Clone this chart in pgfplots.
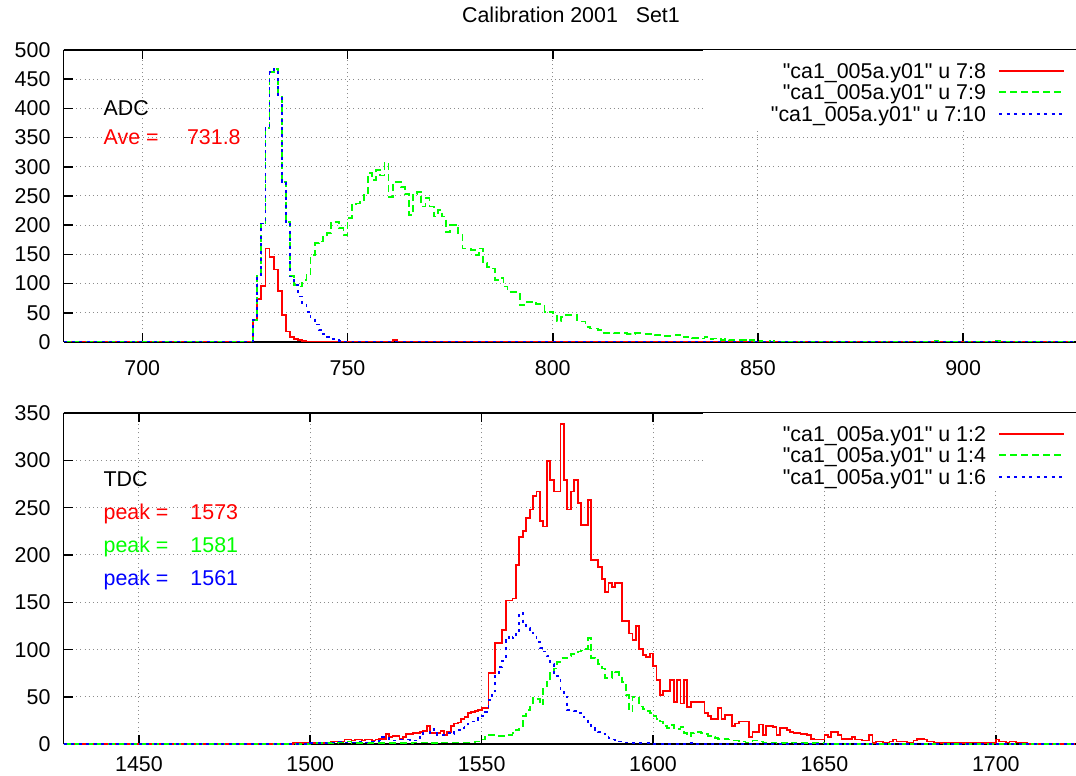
\documentclass[border=0pt]{standalone}
\usepackage{fontspec}
\setmainfont{Liberation Sans}[Ligatures=TeXOff]
\usepackage{pgfplots}
\pgfplotsset{compat=1.18}
\newcommand\fs{\fontsize{10.7pt}{12.8pt}\selectfont}

\pgfplotsset{
  calib/.style={
    scale only axis, width=506.25pt, anchor=south west,
    axis y line*=left,
    axis line style={-, black, line width=0.9pt},
    tick style={black, line width=0.8pt}, major tick length=4.5pt,
    grid=major,
    major grid style={black!45, line width=0.5pt, dash pattern=on 0.5pt off 1.6pt},
    tick label style={font=\fs},
    /pgf/number format/assume math mode=true,
    /pgf/number format/1000 sep={},
    yticklabel style={xshift=-3pt},
    no markers,
    legend plot pos=none, legend cell align=right,
    legend style={at={(1,1)}, anchor=north east, xshift=-44.8pt, yshift=-6pt,
      draw=none, fill=none, inner sep=0pt, row sep=1.75pt,
      font=\fs, nodes={inner sep=0pt, text height=8pt, text depth=1pt}},
  },
  hr/.style={const plot, color=red, line width=0.9pt, solid},
  hg/.style={const plot, color=green, line width=0.9pt, dash pattern=on 3.5pt off 2pt},
  hb/.style={const plot, color=blue, line width=0.9pt, dash pattern=on 1.5pt off 2.25pt},
}
\tikzset{
  kr/.style={red, line width=1pt},
  kg/.style={green, line width=1pt, dash pattern=on 3.5pt off 2pt},
  kb/.style={blue, line width=1pt, dash pattern=on 1.5pt off 2.25pt},
}

\begin{document}
\begin{tikzpicture}
\useasboundingbox (0,0) rectangle (538pt,388pt);

\node[font=\fs] at (285.5pt,380.5pt) {Calibration 2001\ \ \ Set1};

% ADC
\begin{axis}[calib, at={(31.75pt,217pt)}, height=146pt,
  xmin=680.8, xmax=927.5, ymin=0, ymax=500,
  xtick={700,750,...,900}, ytick={0,50,...,500},
  xticklabel style={yshift=-5.5pt}]
\addplot[hr] coordinates {
(681,0) (727,38) (728,74) (729,96) (730,160) (731,146) (732,124) (733,87)
(734,46) (735,18) (736,9) (737,5) (738,3) (739,2) (740,1) (741,0)
(761,3) (762,0) (927,0)};
\addlegendentry{"ca1\_005a.y01" u 7:8}
\addplot[hg] coordinates {
(681,0) (727,38) (728,115) (729,203) (730,367) (731,462) (732,467) (733,423)
(734,274) (735,206) (736,113) (737,98) (738,95) (739,106) (740,115) (741,149)
(742,169) (743,172) (744,180) (745,186) (746,206) (747,206) (748,195) (749,183)
(750,212) (751,235) (752,237) (753,243) (754,252) (755,289) (756,277) (757,295)
(758,285) (759,306) (760,248) (761,274) (762,274) (763,266) (764,254) (765,217)
(766,254) (767,257) (768,232) (769,246) (770,232) (771,215) (772,226) (773,215)
(774,189) (775,200) (776,200) (777,186) (778,160) (779,160) (780,158) (781,149)
(782,160) (783,135) (784,129) (785,126) (786,106) (787,109) (788,95) (789,86)
(790,86) (791,83) (792,63) (793,68) (794,68) (795,69) (796,65) (797,65)
(798,52) (799,52) (800,49) (801,35) (802,43) (803,46) (804,46) (805,46)
(806,35) (807,35) (808,26) (809,23) (810,23) (811,21) (812,16) (813,16)
(814,16) (815,15) (816,15) (817,15) (818,14) (819,14) (820,15) (821,15)
(822,14) (823,14) (824,13) (825,12) (826,12) (827,10) (828,10) (829,11)
(830,12) (831,9) (832,8) (833,9) (834,7) (835,7) (836,6) (837,8)
(838,5) (839,6) (840,5) (841,4) (842,5) (843,3) (844,4) (845,3)
(847,2) (848,3) (849,2) (851,1) (852,2) (853,1) (854,2) (855,1)
(856,0) (857,1) (859,0) (860,1) (862,0) (865,1) (866,0) (870,1)
(871,0) (875,1) (876,0) (880,1) (881,0) (886,1) (888,0) (893,2)
(894,0) (897,1) (899,0) (904,1) (905,0) (908,2) (909,1) (910,0)
(915,1) (916,0) (920,1) (921,0) (927,0)};
\addlegendentry{"ca1\_005a.y01" u 7:9}
\addplot[hb] coordinates {
(681,0) (727,38) (728,115) (729,203) (730,367) (731,462) (732,467) (733,423)
(734,274) (735,206) (736,112) (737,97) (738,78) (739,64) (740,52) (741,40)
(742,30) (743,21) (744,14) (745,9) (746,5) (747,3) (748,2) (749,1)
(751,0) (752,1) (753,0) (927,0)};
\addlegendentry{"ca1\_005a.y01" u 7:10}
\fill[white] (axis cs:836.5,366) rectangle (axis cs:927.5,500);
\end{axis}

% TDC
\begin{axis}[calib, at={(31.75pt,15.85pt)}, height=165.65pt,
  xmin=1428, xmax=1723.4, ymin=0, ymax=350,
  xtick={1450,1500,...,1700}, ytick={0,50,...,350},
  xticklabel style={yshift=-2.5pt}]
\addplot[hr] coordinates {
(1428,0) (1495,1) (1503,2) (1504,1) (1506,3) (1508,2) (1509,3) (1510,5)
(1512,4) (1513,5) (1515,4) (1516,5) (1518,4) (1519,5) (1520,6) (1522,11)
(1523,8) (1524,9) (1526,6) (1527,8) (1528,11) (1530,12) (1532,13) (1533,14)
(1534,19) (1535,12) (1537,12) (1538,14) (1539,10) (1540,13) (1541,19) (1542,22)
(1543,23) (1544,27) (1545,29) (1546,33) (1547,34) (1548,35) (1549,36) (1550,38)
(1552,75) (1554,107) (1556,121) (1557,152) (1559,154) (1560,189) (1561,219) (1562,225)
(1563,239) (1564,248) (1565,262) (1566,267) (1567,236) (1568,230) (1569,299) (1570,279)
(1571,267) (1573,338) (1574,279) (1575,248) (1576,267) (1577,279) (1578,255) (1579,232)
(1581,258) (1582,195) (1584,187) (1585,175) (1586,161) (1587,170) (1588,166) (1589,170)
(1591,130) (1593,117) (1594,110) (1595,125) (1596,101) (1597,94) (1598,92) (1599,96)
(1600,83) (1601,68) (1602,52) (1603,56) (1605,68) (1606,45) (1607,68) (1608,43)
(1609,68) (1610,39) (1611,45) (1615,33) (1616,30) (1617,27) (1619,38) (1620,27)
(1621,31) (1623,19) (1624,22) (1625,24) (1628,8) (1629,13) (1631,21) (1632,10)
(1633,19) (1635,18) (1636,10) (1637,17) (1639,15) (1640,13) (1641,12) (1643,11)
(1645,10) (1646,6) (1647,5) (1650,10) (1651,8) (1652,13) (1654,10) (1655,6)
(1658,8) (1659,5) (1661,4) (1663,10) (1664,1) (1665,3) (1667,2) (1669,3)
(1670,5) (1671,3) (1674,2) (1676,4) (1677,6) (1679,5) (1680,3) (1682,2)
(1684,1) (1686,2) (1688,1) (1692,2) (1694,1) (1700,5) (1701,3) (1703,2)
(1704,3) (1706,2) (1709,0) (1723,0)};
\addlegendentry{"ca1\_005a.y01" u 1:2}
\addplot[hg] coordinates {
(1428,0) (1500,1) (1508,2) (1510,3) (1512,1) (1530,2) (1535,1) (1538,2)
(1548,3) (1550,5) (1551,8) (1552,10) (1554,9) (1558,10) (1559,12) (1560,15)
(1561,19) (1562,30) (1563,36) (1564,40) (1565,49) (1566,48) (1567,42) (1568,61)
(1569,66) (1570,75) (1571,80) (1572,87) (1573,91) (1575,93) (1576,95) (1577,96)
(1578,98) (1579,99) (1580,101) (1581,112) (1582,91) (1583,89) (1584,85) (1585,80)
(1586,70) (1588,77) (1589,76) (1590,73) (1591,66) (1592,52) (1593,35) (1594,50)
(1595,49) (1596,40) (1597,37) (1598,35) (1599,33) (1600,30) (1601,27) (1602,24)
(1603,19) (1604,17) (1605,20) (1606,17) (1607,16) (1608,18) (1609,12) (1610,9)
(1611,12) (1612,13) (1614,12) (1615,11) (1616,9) (1617,8) (1618,7) (1619,6)
(1622,5) (1623,4) (1625,3) (1627,2) (1628,3) (1629,4) (1631,3) (1632,2)
(1636,1) (1640,2) (1641,1) (1650,0) (1723,0)};
\addlegendentry{"ca1\_005a.y01" u 1:4}
\addplot[hb] coordinates {
(1428,0) (1500,1) (1505,2) (1507,3) (1509,2) (1513,3) (1516,2) (1518,3)
(1520,4) (1521,8) (1523,4) (1526,5) (1529,4) (1531,5) (1532,8) (1533,12)
(1535,16) (1536,12) (1537,10) (1539,12) (1541,11) (1542,13) (1543,15) (1544,17)
(1545,19) (1546,22) (1547,24) (1548,26) (1549,28) (1550,30) (1551,34) (1552,47)
(1553,56) (1554,74) (1555,82) (1556,88) (1557,110) (1558,115) (1559,112) (1560,120)
(1561,139) (1562,126) (1563,123) (1564,121) (1565,117) (1566,108) (1567,102) (1568,98)
(1569,93) (1570,85) (1571,75) (1572,72) (1573,57) (1574,50) (1575,36) (1577,35)
(1578,33) (1579,29) (1580,27) (1581,20) (1582,17) (1583,14) (1584,13) (1585,11)
(1586,9) (1587,7) (1588,5) (1589,4) (1590,3) (1592,2) (1594,1) (1600,0)
(1610,1) (1612,0) (1723,0)};
\addlegendentry{"ca1\_005a.y01" u 1:6}
\fill[white] (axis cs:1614.5,267.6) rectangle (axis cs:1723.4,350);
\end{axis}

% key samples
\draw[kr] (499.5pt,352.5pt) -- (532pt,352.5pt);
\draw[kg] (499.5pt,342pt) -- (532pt,342pt);
\draw[kb] (499.5pt,331pt) -- (532pt,331pt);
\draw[kr] (499.5pt,171pt) -- (532pt,171pt);
\draw[kg] (499.5pt,160.5pt) -- (532pt,160.5pt);
\draw[kb] (499.5pt,149.5pt) -- (532pt,149.5pt);

\begin{scope}[font=\fs]
\node[anchor=base west] at (48.3pt,330pt) {ADC};
\node[anchor=base west, red] at (48.3pt,315.5pt) {Ave =};
\node[anchor=base west, red] at (90pt,315.5pt) {731.8};
\node[anchor=base west] at (48.3pt,144.7pt) {TDC};
\node[anchor=base west, red] at (48.3pt,128pt) {peak =};
\node[anchor=base west, red] at (91.7pt,128pt) {1573};
\node[anchor=base west, green] at (48.3pt,111.7pt) {peak =};
\node[anchor=base west, green] at (91.7pt,111.7pt) {1581};
\node[anchor=base west, blue] at (48.3pt,95pt) {peak =};
\node[anchor=base west, blue] at (91.7pt,95pt) {1561};
\end{scope}
\end{tikzpicture}
\end{document}
